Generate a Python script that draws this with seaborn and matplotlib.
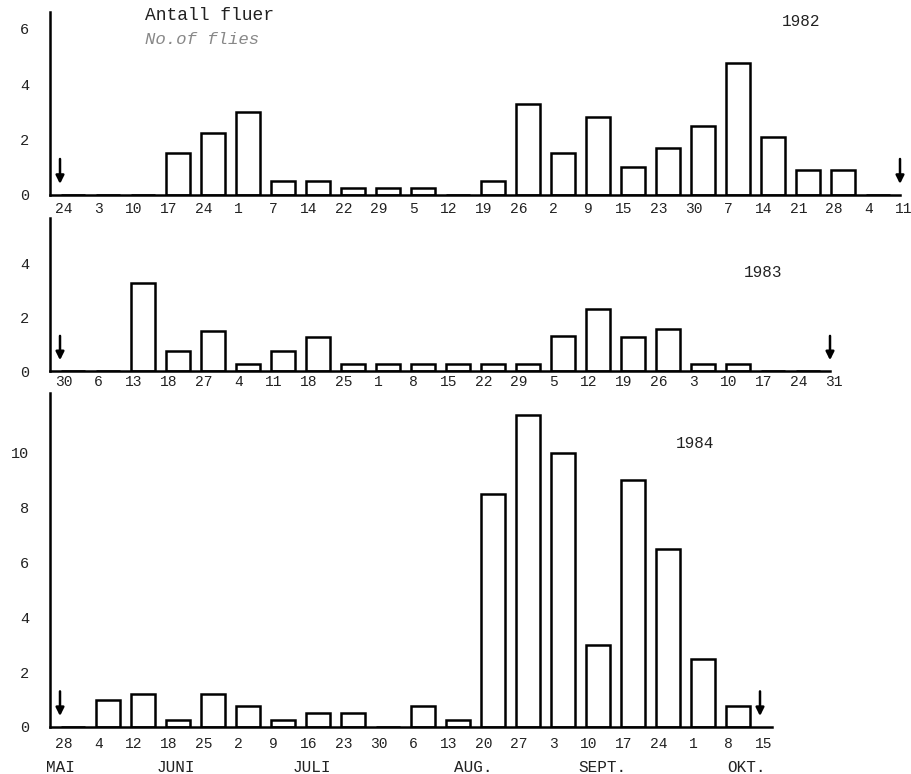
import numpy as np
import pandas as pd
import matplotlib
matplotlib.use("Agg")
import matplotlib.pyplot as plt
import seaborn as sns

# ---------------- data ----------------
dates_1982 = ["24", "3", "10", "17", "24", "1", "7", "14", "22", "29", "5", "12", "19",
              "26", "2", "9", "15", "23", "30", "7", "14", "21", "28", "4", "11"]
flies_1982 = [0, 0, 0, 1.5, 2.25, 3.0, 0.5, 0.5, 0.25, 0.25, 0.25, 0, 0.5,
              3.3, 1.5, 2.8, 1.0, 1.7, 2.5, 4.75, 2.1, 0.9, 0.9, 0]

dates_1983 = ["30", "6", "13", "18", "27", "4", "11", "18", "25", "1", "8", "15", "22",
              "29", "5", "12", "19", "26", "3", "10", "17", "24", "31"]
flies_1983 = [0, 0, 3.25, 0.75, 1.5, 0.25, 0.75, 1.25, 0.25, 0.25, 0.25, 0.25, 0.25,
              0.25, 1.3, 2.3, 1.25, 1.55, 0.25, 0.25, 0, 0]

dates_1984 = ["28", "4", "12", "18", "25", "2", "9", "16", "23", "30", "6", "13", "20",
              "27", "3", "10", "17", "24", "1", "8", "15"]
flies_1984 = [0, 1.0, 1.2, 0.25, 1.2, 0.75, 0.25, 0.5, 0.5, 0, 0.75, 0.25, 8.5,
              11.4, 10.0, 3.0, 9.0, 6.5, 2.5, 0.75]

months = ["MAI", "JUNI", "JULI", "AUG.", "SEPT.", "OKT."]
month_anchor = [0.0, 3.3, 7.2, 11.8, 15.5, 19.6]   # position along the 1984 date axis

years = ["1982", "1983", "1984"]
yticks_1982 = [0, 2, 4, 6]
yticks_1983 = [0, 2, 4]
yticks_1984 = [0, 2, 4, 6, 8, 10]

# ---------------- style ----------------
sns.set_style("white")
plt.rcParams["font.family"] = ["Liberation Mono", "DejaVu Sans"]
plt.rcParams["axes.linewidth"] = 1.5

W, H = 911, 774
fig = plt.figure(figsize=(W / 100, H / 100), dpi=100)

x0_px, step_px = 60, 35.0
left_px, right_px = 50, 905
xlim = ((left_px - x0_px) / step_px, (right_px - x0_px) / step_px)

panels = [
    # dates, values, yticks, year, baseline_px, px_per_unit, ymax, spine extra, label pad, year pos(px)
    (dates_1982, flies_1982, yticks_1982, years[0], 195, 27.7, 6.6, None, 5, (801, 22)),
    (dates_1983, flies_1983, yticks_1983, years[1], 371, 27.0, 5.67, None, 3, (763, 273)),
    (dates_1984, flies_1984, yticks_1984, years[2], 727, 27.4, 12.2, 0.35, 7, (695, 443)),
]

axes = []
for dates, vals, yt, yr, base, ppu, ymax, extra, lpad, ypos in panels:
    h_px = ymax * ppu
    ax = fig.add_axes([left_px / W, (H - base) / H, (right_px - left_px) / W, h_px / H])
    axes.append(ax)
    n = len(vals)
    df = pd.DataFrame({"pos": np.arange(n) + 0.37, "flies": vals})
    sns.barplot(data=df, x="pos", y="flies", native_scale=True, width=0.7,
                color="white", saturation=1, edgecolor="black", linewidth=1.8,
                errorbar=None, ax=ax)
    ax.set_xlim(*xlim)
    ax.set_ylim(0, ymax)
    ax.set_xlabel("")
    ax.set_ylabel("")
    idx = np.arange(len(dates))
    ax.set_xticks(idx, labels=[""] * len(dates))
    ax.set_xticks(idx + 0.1, labels=dates, minor=True)
    ax.tick_params(axis="x", which="major", direction="in", length=5, width=1.5,
                   color="black")
    ax.tick_params(axis="x", which="minor", length=0, pad=lpad, labelsize=10.5,
                   labelcolor="#222222")
    ax.set_yticks(yt, labels=[str(v) for v in yt])
    ax.tick_params(axis="y", direction="in", length=4, width=1.5, pad=15,
                   labelsize=11, color="black", labelcolor="#222222")
    for s in ["top", "right"]:
        ax.spines[s].set_visible(False)
    ax.spines["left"].set_bounds(0, ymax)
    end = len(dates) - 1 + (extra if extra else 0)
    ax.spines["bottom"].set_bounds(xlim[0], end)
    ax.spines["left"].set_color("black")
    ax.spines["bottom"].set_color("black")
    ax.spines["left"].set_linewidth(1.8)
    ax.spines["bottom"].set_linewidth(1.8)
    ax.set_facecolor("none")
    # season start / end arrows
    for xi in (0, len(dates) - 1):
        ax.annotate("", xy=(xi, 0.4), xytext=(xi, 1.3),
                    arrowprops=dict(arrowstyle="-|>", color="black", lw=1.8,
                                    mutation_scale=12, shrinkA=0, shrinkB=0))
    fig.text(ypos[0] / W, 1 - ypos[1] / H, yr, ha="center", va="center",
             fontsize=11.5, color="#222222")

# month names under the 1984 axis
ax3 = axes[2]
for m, p in zip(months, month_anchor):
    ax3.annotate(m, xy=(p, 0), xycoords="data", xytext=(0, -29), textcoords="offset points",
                 ha="center", va="center", fontsize=11.5, color="#222222")

fig.text(145 / W, 1 - 16 / H, "Antall fluer", ha="left", va="center",
         fontsize=13, color="#222222")
fig.text(145 / W, 1 - 40 / H, "No.of flies", ha="left", va="center",
         fontsize=12.5, style="italic", color="#888888")

fig.savefig("out.png", dpi=100, facecolor="white")
